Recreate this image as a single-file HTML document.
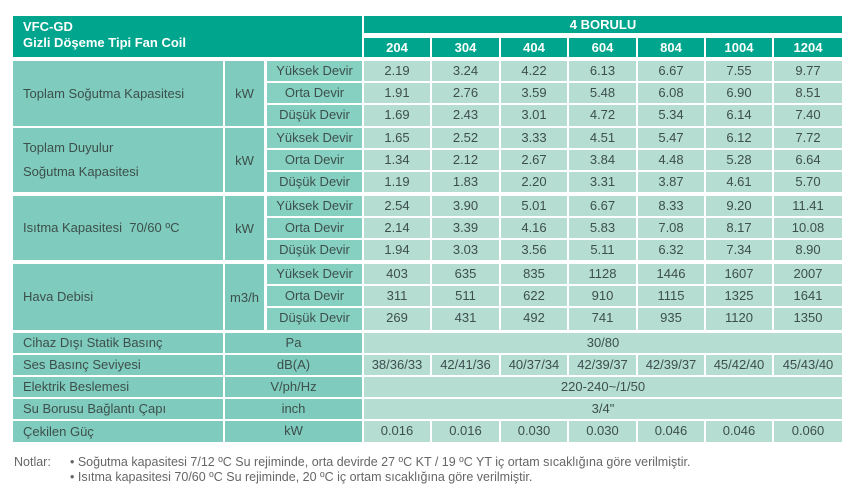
<!DOCTYPE html>
<html><head><meta charset="utf-8"><style>
body{margin:0;width:855px;height:499px;background:#fff;position:relative;overflow:hidden;font-family:"Liberation Sans",sans-serif;color:#3d4f4c}
div{position:absolute;box-sizing:border-box;white-space:nowrap}
.h{background:#00a58d;color:#fff;font-weight:bold;font-size:13px;text-align:center}
.l{background:#7fcbbd;font-size:13px;padding-left:10px;display:flex;align-items:center;white-space:normal;line-height:24px}
.u{background:#7fcbbd;font-size:13px;display:flex;align-items:center;justify-content:center}
.d{background:#86d0c2;font-size:13px;text-align:center;line-height:20px;height:20px}
.v{background:#b5ddd2;font-size:13px;text-align:center;line-height:20px;height:20px}
.n{font-size:12.5px;color:#666;line-height:15px}
</style></head><body>
<div class="h" style="left:13px;top:16px;width:349px;height:41px;text-align:left;padding:3px 0 0 10px;line-height:16px">VFC-GD<br>Gizli Döşeme Tipi Fan Coil</div>
<div class="h" style="left:364px;top:16px;width:478px;height:17px;line-height:17px">4 BORULU</div>
<div class="h" style="left:364px;top:38px;width:66px;height:19px;line-height:20px">204</div>
<div class="h" style="left:432px;top:38px;width:67px;height:19px;line-height:20px">304</div>
<div class="h" style="left:501px;top:38px;width:66px;height:19px;line-height:20px">404</div>
<div class="h" style="left:569px;top:38px;width:67px;height:19px;line-height:20px">604</div>
<div class="h" style="left:638px;top:38px;width:66px;height:19px;line-height:20px">804</div>
<div class="h" style="left:706px;top:38px;width:66px;height:19px;line-height:20px">1004</div>
<div class="h" style="left:774px;top:38px;width:68px;height:19px;line-height:20px">1204</div>

<div class="l" style="left:13px;top:61px;width:210px;height:65px">Toplam Soğutma Kapasitesi</div>
<div class="u" style="left:225px;top:61px;width:39px;height:65px">kW</div>
<div class="d" style="left:267px;top:61px;width:95px">Yüksek Devir</div>
<div class="d" style="left:267px;top:83px;width:95px">Orta Devir</div>
<div class="d" style="left:267px;top:105px;width:95px;height:21px">Düşük Devir</div>
<div class="v" style="left:364px;top:61px;width:66px">2.19</div><div class="v" style="left:432px;top:61px;width:67px">3.24</div><div class="v" style="left:501px;top:61px;width:66px">4.22</div><div class="v" style="left:569px;top:61px;width:67px">6.13</div><div class="v" style="left:638px;top:61px;width:66px">6.67</div><div class="v" style="left:706px;top:61px;width:66px">7.55</div><div class="v" style="left:774px;top:61px;width:68px">9.77</div>
<div class="v" style="left:364px;top:83px;width:66px">1.91</div><div class="v" style="left:432px;top:83px;width:67px">2.76</div><div class="v" style="left:501px;top:83px;width:66px">3.59</div><div class="v" style="left:569px;top:83px;width:67px">5.48</div><div class="v" style="left:638px;top:83px;width:66px">6.08</div><div class="v" style="left:706px;top:83px;width:66px">6.90</div><div class="v" style="left:774px;top:83px;width:68px">8.51</div>
<div class="v" style="left:364px;top:105px;width:66px;height:21px">1.69</div><div class="v" style="left:432px;top:105px;width:67px;height:21px">2.43</div><div class="v" style="left:501px;top:105px;width:66px;height:21px">3.01</div><div class="v" style="left:569px;top:105px;width:67px;height:21px">4.72</div><div class="v" style="left:638px;top:105px;width:66px;height:21px">5.34</div><div class="v" style="left:706px;top:105px;width:66px;height:21px">6.14</div><div class="v" style="left:774px;top:105px;width:68px;height:21px">7.40</div>

<div class="l" style="left:13px;top:128px;width:210px;height:64px">Toplam Duyulur<br>Soğutma Kapasitesi</div>
<div class="u" style="left:225px;top:128px;width:39px;height:64px">kW</div>
<div class="d" style="left:267px;top:128px;width:95px">Yüksek Devir</div>
<div class="d" style="left:267px;top:150px;width:95px">Orta Devir</div>
<div class="d" style="left:267px;top:172px;width:95px">Düşük Devir</div>
<div class="v" style="left:364px;top:128px;width:66px">1.65</div><div class="v" style="left:432px;top:128px;width:67px">2.52</div><div class="v" style="left:501px;top:128px;width:66px">3.33</div><div class="v" style="left:569px;top:128px;width:67px">4.51</div><div class="v" style="left:638px;top:128px;width:66px">5.47</div><div class="v" style="left:706px;top:128px;width:66px">6.12</div><div class="v" style="left:774px;top:128px;width:68px">7.72</div>
<div class="v" style="left:364px;top:150px;width:66px">1.34</div><div class="v" style="left:432px;top:150px;width:67px">2.12</div><div class="v" style="left:501px;top:150px;width:66px">2.67</div><div class="v" style="left:569px;top:150px;width:67px">3.84</div><div class="v" style="left:638px;top:150px;width:66px">4.48</div><div class="v" style="left:706px;top:150px;width:66px">5.28</div><div class="v" style="left:774px;top:150px;width:68px">6.64</div>
<div class="v" style="left:364px;top:172px;width:66px">1.19</div><div class="v" style="left:432px;top:172px;width:67px">1.83</div><div class="v" style="left:501px;top:172px;width:66px">2.20</div><div class="v" style="left:569px;top:172px;width:67px">3.31</div><div class="v" style="left:638px;top:172px;width:66px">3.87</div><div class="v" style="left:706px;top:172px;width:66px">4.61</div><div class="v" style="left:774px;top:172px;width:68px">5.70</div>

<div class="l" style="left:13px;top:196px;width:210px;height:64px">Isıtma Kapasitesi&nbsp; 70/60 ºC</div>
<div class="u" style="left:225px;top:196px;width:39px;height:64px">kW</div>
<div class="d" style="left:267px;top:196px;width:95px">Yüksek Devir</div>
<div class="d" style="left:267px;top:218px;width:95px">Orta Devir</div>
<div class="d" style="left:267px;top:240px;width:95px">Düşük Devir</div>
<div class="v" style="left:364px;top:196px;width:66px">2.54</div><div class="v" style="left:432px;top:196px;width:67px">3.90</div><div class="v" style="left:501px;top:196px;width:66px">5.01</div><div class="v" style="left:569px;top:196px;width:67px">6.67</div><div class="v" style="left:638px;top:196px;width:66px">8.33</div><div class="v" style="left:706px;top:196px;width:66px">9.20</div><div class="v" style="left:774px;top:196px;width:68px">11.41</div>
<div class="v" style="left:364px;top:218px;width:66px">2.14</div><div class="v" style="left:432px;top:218px;width:67px">3.39</div><div class="v" style="left:501px;top:218px;width:66px">4.16</div><div class="v" style="left:569px;top:218px;width:67px">5.83</div><div class="v" style="left:638px;top:218px;width:66px">7.08</div><div class="v" style="left:706px;top:218px;width:66px">8.17</div><div class="v" style="left:774px;top:218px;width:68px">10.08</div>
<div class="v" style="left:364px;top:240px;width:66px">1.94</div><div class="v" style="left:432px;top:240px;width:67px">3.03</div><div class="v" style="left:501px;top:240px;width:66px">3.56</div><div class="v" style="left:569px;top:240px;width:67px">5.11</div><div class="v" style="left:638px;top:240px;width:66px">6.32</div><div class="v" style="left:706px;top:240px;width:66px">7.34</div><div class="v" style="left:774px;top:240px;width:68px">8.90</div>

<div class="l" style="left:13px;top:264px;width:210px;height:66px">Hava Debisi</div>
<div class="u" style="left:225px;top:264px;width:39px;height:66px">m3/h</div>
<div class="d" style="left:267px;top:264px;width:95px">Yüksek Devir</div>
<div class="d" style="left:267px;top:286px;width:95px">Orta Devir</div>
<div class="d" style="left:267px;top:308px;width:95px;height:22px">Düşük Devir</div>
<div class="v" style="left:364px;top:264px;width:66px">403</div><div class="v" style="left:432px;top:264px;width:67px">635</div><div class="v" style="left:501px;top:264px;width:66px">835</div><div class="v" style="left:569px;top:264px;width:67px">1128</div><div class="v" style="left:638px;top:264px;width:66px">1446</div><div class="v" style="left:706px;top:264px;width:66px">1607</div><div class="v" style="left:774px;top:264px;width:68px">2007</div>
<div class="v" style="left:364px;top:286px;width:66px">311</div><div class="v" style="left:432px;top:286px;width:67px">511</div><div class="v" style="left:501px;top:286px;width:66px">622</div><div class="v" style="left:569px;top:286px;width:67px">910</div><div class="v" style="left:638px;top:286px;width:66px">1115</div><div class="v" style="left:706px;top:286px;width:66px">1325</div><div class="v" style="left:774px;top:286px;width:68px">1641</div>
<div class="v" style="left:364px;top:308px;width:66px;height:22px">269</div><div class="v" style="left:432px;top:308px;width:67px;height:22px">431</div><div class="v" style="left:501px;top:308px;width:66px;height:22px">492</div><div class="v" style="left:569px;top:308px;width:67px;height:22px">741</div><div class="v" style="left:638px;top:308px;width:66px;height:22px">935</div><div class="v" style="left:706px;top:308px;width:66px;height:22px">1120</div><div class="v" style="left:774px;top:308px;width:68px;height:22px">1350</div>

<div class="l" style="left:13px;top:333px;width:210px;height:20px;line-height:20px">Cihaz Dışı Statik Basınç</div>
<div class="d" style="left:225px;top:333px;width:137px;background:#7fcbbd">Pa</div>
<div class="v" style="left:364px;top:333px;width:478px">30/80</div>

<div class="l" style="left:13px;top:355px;width:210px;height:20px;line-height:20px">Ses Basınç Seviyesi</div>
<div class="d" style="left:225px;top:355px;width:137px;background:#7fcbbd">dB(A)</div>
<div class="v" style="left:364px;top:355px;width:66px">38/36/33</div><div class="v" style="left:432px;top:355px;width:67px">42/41/36</div><div class="v" style="left:501px;top:355px;width:66px">40/37/34</div><div class="v" style="left:569px;top:355px;width:67px">42/39/37</div><div class="v" style="left:638px;top:355px;width:66px">42/39/37</div><div class="v" style="left:706px;top:355px;width:66px">45/42/40</div><div class="v" style="left:774px;top:355px;width:68px">45/43/40</div>

<div class="l" style="left:13px;top:377px;width:210px;height:20px;line-height:20px">Elektrik Beslemesi</div>
<div class="d" style="left:225px;top:377px;width:137px;background:#7fcbbd">V/ph/Hz</div>
<div class="v" style="left:364px;top:377px;width:478px">220-240~/1/50</div>

<div class="l" style="left:13px;top:399px;width:210px;height:20px;line-height:20px">Su Borusu Bağlantı Çapı</div>
<div class="d" style="left:225px;top:399px;width:137px;background:#7fcbbd">inch</div>
<div class="v" style="left:364px;top:399px;width:478px">3/4"</div>

<div class="l" style="left:13px;top:421px;width:210px;height:21px;line-height:21px">Çekilen Güç</div>
<div class="d" style="left:225px;top:421px;width:137px;height:21px;background:#7fcbbd">kW</div>
<div class="v" style="left:364px;top:421px;width:66px;height:21px">0.016</div><div class="v" style="left:432px;top:421px;width:67px;height:21px">0.016</div><div class="v" style="left:501px;top:421px;width:66px;height:21px">0.030</div><div class="v" style="left:569px;top:421px;width:67px;height:21px">0.030</div><div class="v" style="left:638px;top:421px;width:66px;height:21px">0.046</div><div class="v" style="left:706px;top:421px;width:66px;height:21px">0.046</div><div class="v" style="left:774px;top:421px;width:68px;height:21px">0.060</div>

<div class="n" style="left:14px;top:455px">Notlar:</div>
<div class="n" style="left:70px;top:455px">• Soğutma kapasitesi 7/12 ºC Su rejiminde, orta devirde 27 ºC KT / 19 ºC YT iç ortam sıcaklığına göre verilmiştir.</div>
<div class="n" style="left:70px;top:470px">• Isıtma kapasitesi 70/60 ºC Su rejiminde, 20 ºC iç ortam sıcaklığına göre verilmiştir.</div>
</body></html>
